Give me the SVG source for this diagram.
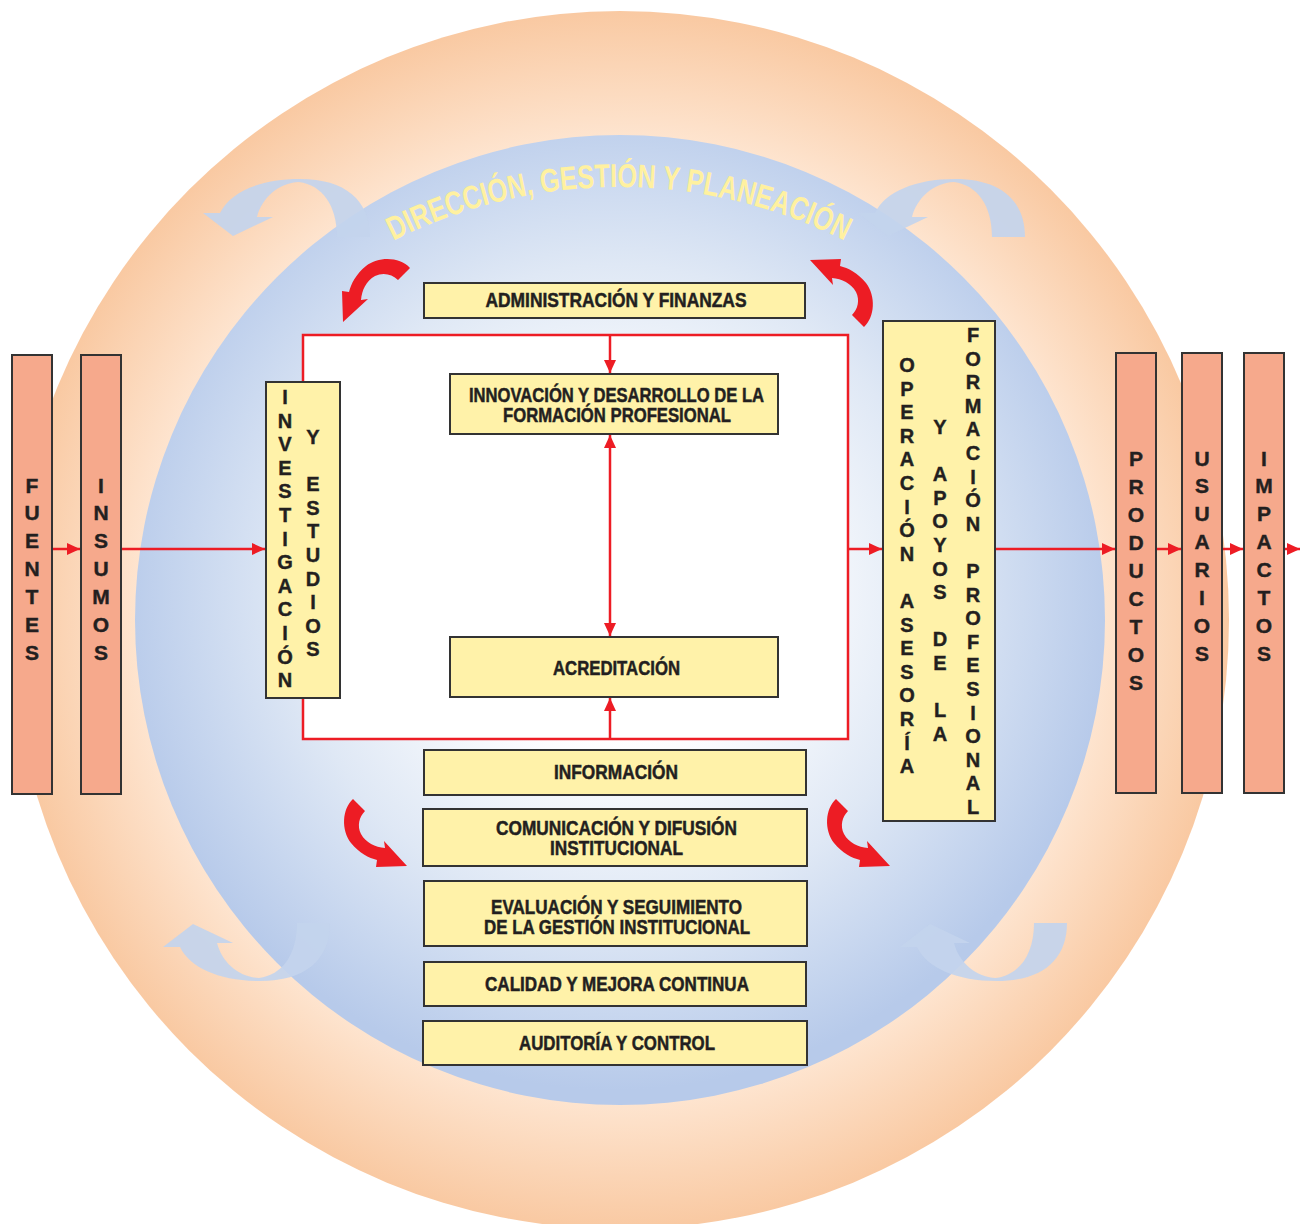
<svg xmlns="http://www.w3.org/2000/svg" xmlns:xlink="http://www.w3.org/1999/xlink" width="1300" height="1224" viewBox="0 0 1300 1224">
<defs>
<style>
.salmon{fill:#f6a98c;stroke:#333;stroke-width:2}
.yel{fill:#fff2a9;stroke:#333;stroke-width:2}
.lbl{font-family:'Liberation Sans Narrow','Liberation Sans',Arial,sans-serif;font-weight:bold;font-size:20px;fill:#231f20;stroke:#231f20;stroke-width:0.5;text-anchor:middle}
.vert{font-family:'Liberation Sans',Arial,sans-serif;font-weight:bold;font-size:20px;fill:#231f20;stroke:#231f20;stroke-width:0.4;text-anchor:middle}
.vert2{font-family:'Liberation Sans',Arial,sans-serif;font-weight:bold;font-size:21px;fill:#231f20;stroke:#231f20;stroke-width:0.4;text-anchor:middle}
.red{fill:none;stroke:#ed1c24;stroke-width:2.5}
.ra{fill:#ed1c24}
.ba{fill:#c3d4ed;opacity:0.92}
.arc{font-family:'Liberation Sans Narrow','Liberation Sans',Arial,sans-serif;font-weight:bold;font-size:33px;fill:#fff1a0}
</style>
<radialGradient id="gOrange" gradientUnits="userSpaceOnUse" cx="620" cy="620" r="609">
<stop offset="0.78" stop-color="#fee6d2"/>
<stop offset="1" stop-color="#f9c9a2"/>
</radialGradient>
<radialGradient id="gBlue" gradientUnits="userSpaceOnUse" cx="615" cy="590" r="500">
<stop offset="0" stop-color="#ffffff"/>
<stop offset="0.3" stop-color="#ffffff"/>
<stop offset="0.65" stop-color="#dfe8f5"/>
<stop offset="0.85" stop-color="#c8d7ef"/>
<stop offset="1" stop-color="#b7caea"/>
</radialGradient>
<marker id="ah" markerUnits="userSpaceOnUse" markerWidth="13" markerHeight="12" refX="13" refY="6" orient="auto-start-reverse">
<path d="M0,0 L13,6 L0,12 Z" fill="#ed1c24"/>
</marker>
<path id="arcPath" d="M 186,437 A 500,500 0 0 1 1052,437"/>
<path id="blueArrow" d="M 370,237 C 370,200 345,179 300,179 C 260,179 230,192 220,213 L 203,213 L 233,236 L 273,217 L 257,217 C 262,198 278,183 299,182 C 322,185 337,205 337,237 Z"/>
<path id="redArrow" d="M 410,268 C 400,257 379,256 366,266 C 356,274 351,284 349,292 L 342,291 L 343,322 L 368,299 L 361,300 C 362,290 366,281 375,276 C 383,272 392,274 398,280 Z"/>
</defs>

<g id="background">
<rect x="0" y="0" width="1300" height="1224" fill="#ffffff"/>
<circle cx="620" cy="620" r="609" fill="url(#gOrange)"/>
<circle cx="620" cy="620" r="485" fill="url(#gBlue)"/>
</g>

<g id="cycle-arrows">
<use href="#blueArrow" class="ba"/>
<use href="#blueArrow" class="ba" transform="translate(655,0)"/>
<use href="#blueArrow" class="ba" transform="translate(-40,1160) scale(1,-1)"/>
<use href="#blueArrow" class="ba" transform="translate(697,1160) scale(1,-1)"/>
</g>

<g id="title">
<text class="arc"><textPath href="#arcPath" startOffset="50%" text-anchor="middle" textLength="468" lengthAdjust="spacingAndGlyphs">DIRECCIÓN, GESTIÓN Y PLANEACIÓN</textPath></text>
</g>

<g id="red-cycle-arrows">
<use href="#redArrow" class="ra"/>
<use href="#redArrow" class="ra" transform="translate(1132,-83) rotate(90)"/>
<use href="#redArrow" class="ra" transform="translate(85,1209) rotate(-90)"/>
<use href="#redArrow" class="ra" transform="translate(568,1209) rotate(-90)"/>
</g>

<g id="inner-frame">
<rect x="303" y="335" width="545" height="404" fill="#ffffff"/>
</g>

<g id="connectors">
<line class="red" x1="53" y1="549" x2="80" y2="549" marker-end="url(#ah)"/>
<line class="red" x1="121" y1="549" x2="265" y2="549" marker-end="url(#ah)"/>
<path class="red" d="M 303,382 V 335 H 848 V 739 H 303 V 698"/>
<line class="red" x1="610" y1="335" x2="610" y2="373" marker-end="url(#ah)"/>
<line class="red" x1="610" y1="435" x2="610" y2="636" marker-start="url(#ah)" marker-end="url(#ah)"/>
<line class="red" x1="610" y1="739" x2="610" y2="698" marker-end="url(#ah)"/>
<line class="red" x1="848" y1="549" x2="882" y2="549" marker-end="url(#ah)"/>
<line class="red" x1="996" y1="549" x2="1115" y2="549" marker-end="url(#ah)"/>
<line class="red" x1="1156" y1="549" x2="1181" y2="549" marker-end="url(#ah)"/>
<line class="red" x1="1222" y1="549" x2="1243" y2="549" marker-end="url(#ah)"/>
<line class="red" x1="1284" y1="549" x2="1300" y2="549" marker-end="url(#ah)"/>
</g>

<g id="fuentes">
<rect class="salmon" x="12" y="355" width="40" height="439"/>
<text class="vert2" x="32 32 32 32 32 32 32" y="492.5 520.4 548.3 576.2 604.1 632 659.9">FUENTES</text>
</g>
<g id="insumos">
<rect class="salmon" x="81" y="355" width="40" height="439"/>
<text class="vert2" x="101 101 101 101 101 101 101" y="492.5 520.4 548.3 576.2 604.1 632 659.9">INSUMOS</text>
</g>

<g id="investigacion">
<rect class="yel" x="266" y="382" width="74" height="316"/>
<text class="vert" x="285 285 285 285 285 285 285 285 285 285 285 285 285" y="404 427.6 451.2 474.8 498.4 522 545.6 569.2 592.8 616.4 640 663.6 687.2">INVESTIGACIÓN</text>
<text class="vert" x="313 313 313 313 313 313 313 313 313 313" y="444 467.6 491.2 514.8 538.4 562 585.6 609.2 632.8 656.4">Y ESTUDIOS</text>
</g>

<g id="administracion">
<rect class="yel" x="424" y="283" width="381" height="35"/>
<text class="lbl" x="616" y="307" textLength="261" lengthAdjust="spacingAndGlyphs">ADMINISTRACIÓN Y FINANZAS</text>
</g>

<g id="innovacion">
<rect class="yel" x="450" y="374" width="328" height="60"/>
<text class="lbl" x="616.5" y="402" textLength="295" lengthAdjust="spacingAndGlyphs">INNOVACIÓN Y DESARROLLO DE LA</text>
<text class="lbl" x="617" y="422" textLength="228" lengthAdjust="spacingAndGlyphs">FORMACIÓN PROFESIONAL</text>
</g>

<g id="acreditacion">
<rect class="yel" x="450" y="637" width="328" height="60"/>
<text class="lbl" x="616.5" y="675" textLength="127" lengthAdjust="spacingAndGlyphs">ACREDITACIÓN</text>
</g>

<g id="informacion">
<rect class="yel" x="424" y="750" width="382" height="45"/>
<text class="lbl" x="616" y="779" textLength="124" lengthAdjust="spacingAndGlyphs">INFORMACIÓN</text>
</g>

<g id="comunicacion">
<rect class="yel" x="423" y="809" width="384" height="57"/>
<text class="lbl" x="616.5" y="835" textLength="241" lengthAdjust="spacingAndGlyphs">COMUNICACIÓN Y DIFUSIÓN</text>
<text class="lbl" x="616.5" y="855" textLength="133" lengthAdjust="spacingAndGlyphs">INSTITUCIONAL</text>
</g>

<g id="evaluacion">
<rect class="yel" x="424" y="881" width="383" height="65"/>
<text class="lbl" x="616.5" y="914" textLength="251" lengthAdjust="spacingAndGlyphs">EVALUACIÓN Y SEGUIMIENTO</text>
<text class="lbl" x="617" y="934" textLength="266" lengthAdjust="spacingAndGlyphs">DE LA GESTIÓN INSTITUCIONAL</text>
</g>

<g id="calidad">
<rect class="yel" x="424" y="962" width="382" height="44"/>
<text class="lbl" x="617" y="991" textLength="264" lengthAdjust="spacingAndGlyphs">CALIDAD Y MEJORA CONTINUA</text>
</g>

<g id="auditoria">
<rect class="yel" x="423" y="1021" width="384" height="44"/>
<text class="lbl" x="617" y="1050" textLength="196" lengthAdjust="spacingAndGlyphs">AUDITORÍA Y CONTROL</text>
</g>

<g id="operacion">
<rect class="yel" x="883" y="321" width="112" height="500"/>
<text class="vert" x="907 907 907 907 907 907 907 907 907 907 907 907 907 907 907 907 907 907" y="372 395.6 419.2 442.8 466.4 490 513.6 537.2 560.8 584.4 608 631.6 655.2 678.8 702.4 726 749.6 773.2">OPERACIÓN ASESORÍA</text>
<text class="vert" x="940 940 940 940 940 940 940 940 940 940 940 940 940 940" y="434 457.6 481.2 504.8 528.4 552 575.6 599.2 622.8 646.4 670 693.6 717.2 740.8">Y APOYOS DE LA</text>
<text class="vert" x="973 973 973 973 973 973 973 973 973 973 973 973 973 973 973 973 973 973 973 973 973" y="342 365.6 389.2 412.8 436.4 460 483.6 507.2 530.8 554.4 578 601.6 625.2 648.8 672.4 696 719.6 743.2 766.8 790.4 814">FORMACIÓN PROFESIONAL</text>
</g>

<g id="productos">
<rect class="salmon" x="1116" y="353" width="40" height="440"/>
<text class="vert2" x="1136 1136 1136 1136 1136 1136 1136 1136 1136" y="465.5 493.5 521.5 549.5 577.5 605.5 633.5 661.5 689.5">PRODUCTOS</text>
</g>
<g id="usuarios">
<rect class="salmon" x="1182" y="353" width="40" height="440"/>
<text class="vert2" x="1202 1202 1202 1202 1202 1202 1202 1202" y="465.5 493.4 521.3 549.2 577.1 605 632.9 660.8">USUARIOS</text>
</g>
<g id="impactos">
<rect class="salmon" x="1244" y="353" width="40" height="440"/>
<text class="vert2" x="1264 1264 1264 1264 1264 1264 1264 1264" y="465.5 493.4 521.3 549.2 577.1 605 632.9 660.8">IMPACTOS</text>
</g>
</svg>
